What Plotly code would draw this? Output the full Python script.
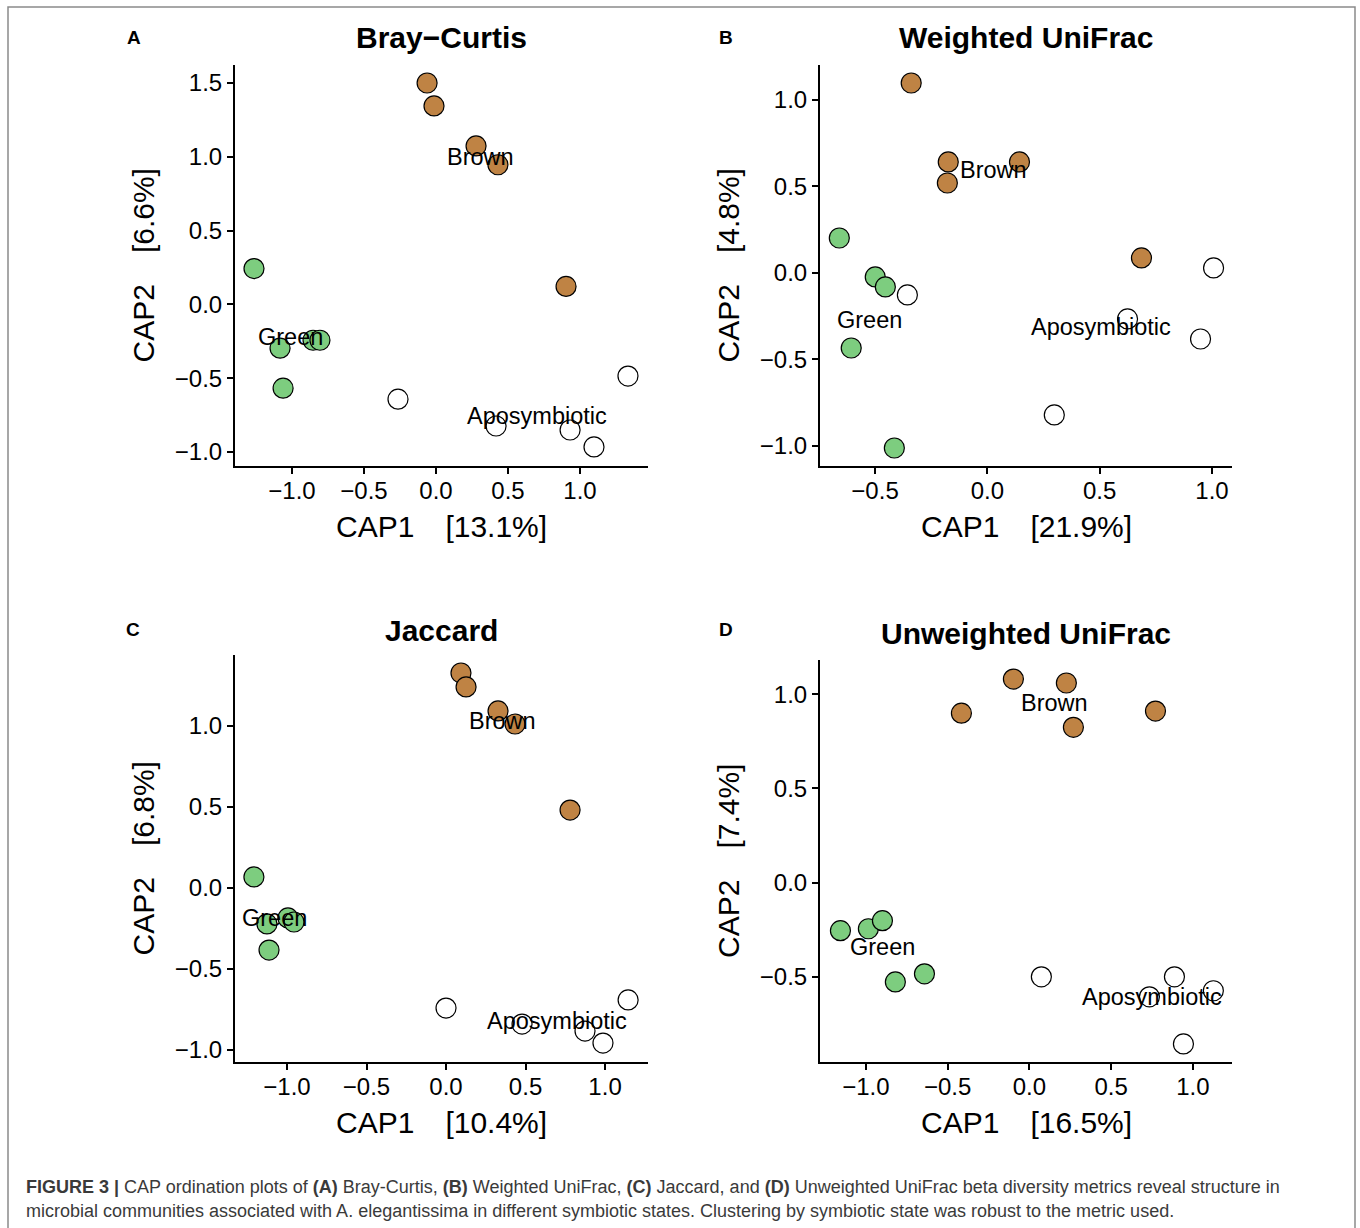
import plotly.graph_objects as go

W, H = 1360, 1228

# ---------------- data ----------------
groups = ["Brown", "Green", "Aposymbiotic"]
group_colors = {"Brown": "#BF8344", "Green": "#7DCD7F", "Aposymbiotic": "#FFFFFF"}

panel_letters = ["A", "B", "C", "D"]
panel_titles = ["Bray\u2212Curtis", "Weighted UniFrac", "Jaccard", "Unweighted UniFrac"]
cap1_pct = ["13.1%", "21.9%", "10.4%", "16.5%"]
cap2_pct = ["6.6%", "4.8%", "6.8%", "7.4%"]

# Bray-Curtis
bc_brown_x = [-0.062, -0.014, 0.278, 0.430, 0.903]
bc_brown_y = [1.500, 1.345, 1.074, 0.946, 0.122]
bc_green_x = [-1.264, -1.083, -1.062, -0.854, -0.806]
bc_green_y = [0.243, -0.297, -0.568, -0.243, -0.243]
bc_apo_x = [-0.264, 0.417, 0.931, 1.097, 1.333]
bc_apo_y = [-0.642, -0.824, -0.851, -0.966, -0.486]

# Weighted UniFrac
wu_brown_x = [-0.339, -0.174, -0.178, 0.143, 0.686]
wu_brown_y = [1.098, 0.642, 0.520, 0.642, 0.087]
wu_green_x = [-0.659, -0.499, -0.454, -0.606, -0.414]
wu_green_y = [0.202, -0.023, -0.081, -0.434, -1.012]
wu_apo_x = [-0.356, 0.624, 0.949, 1.007, 0.298]
wu_apo_y = [-0.127, -0.266, -0.382, 0.029, -0.821]

# Jaccard
ja_brown_x = [0.094, 0.126, 0.327, 0.434, 0.780]
ja_brown_y = [1.327, 1.241, 1.093, 1.012, 0.481]
ja_green_x = [-1.208, -1.126, -1.113, -0.994, -0.956]
ja_green_y = [0.068, -0.222, -0.383, -0.185, -0.210]
ja_apo_x = [0.000, 0.478, 0.874, 0.987, 1.145]
ja_apo_y = [-0.741, -0.840, -0.883, -0.957, -0.691]

# Unweighted UniFrac
uu_brown_x = [-0.416, -0.098, 0.226, 0.269, 0.771]
uu_brown_y = [0.899, 1.080, 1.059, 0.824, 0.910]
uu_green_x = [-1.156, -0.985, -0.899, -0.820, -0.642]
uu_green_y = [-0.255, -0.245, -0.202, -0.527, -0.484]
uu_apo_x = [0.073, 0.734, 0.887, 1.125, 0.942]
uu_apo_y = [-0.500, -0.606, -0.500, -0.574, -0.856]

panel_data = [
    {"Brown": (bc_brown_x, bc_brown_y), "Green": (bc_green_x, bc_green_y), "Aposymbiotic": (bc_apo_x, bc_apo_y)},
    {"Brown": (wu_brown_x, wu_brown_y), "Green": (wu_green_x, wu_green_y), "Aposymbiotic": (wu_apo_x, wu_apo_y)},
    {"Brown": (ja_brown_x, ja_brown_y), "Green": (ja_green_x, ja_green_y), "Aposymbiotic": (ja_apo_x, ja_apo_y)},
    {"Brown": (uu_brown_x, uu_brown_y), "Green": (uu_green_x, uu_green_y), "Aposymbiotic": (uu_apo_x, uu_apo_y)},
]

x_ranges = [[-1.396, 1.472], [-0.745, 1.089], [-1.327, 1.270], [-1.281, 1.239]]
y_ranges = [[-1.095, 1.622], [-1.116, 1.202], [-1.074, 1.438], [-0.952, 1.181]]
x_ticks = [[-1.0, -0.5, 0.0, 0.5, 1.0], [-0.5, 0.0, 0.5, 1.0], [-1.0, -0.5, 0.0, 0.5, 1.0], [-1.0, -0.5, 0.0, 0.5, 1.0]]
y_ticks = [[-1.0, -0.5, 0.0, 0.5, 1.0, 1.5], [-1.0, -0.5, 0.0, 0.5, 1.0], [-1.0, -0.5, 0.0, 0.5, 1.0], [-0.5, 0.0, 0.5, 1.0]]

caption_line1 = ("<b>FIGURE 3 |</b> CAP ordination plots of <b>(A)</b> Bray-Curtis, <b>(B)</b> Weighted UniFrac, "
                 "<b>(C)</b> Jaccard, and <b>(D)</b> Unweighted UniFrac beta diversity metrics reveal structure in")
caption_line2 = ("microbial communities associated with A. elegantissima in different symbiotic states. "
                 "Clustering by symbiotic state was robust to the metric used.")

# ---------------- layout geometry (pixels) ----------------
# (left, right, top, bottom) of each plotting area
boxes = [(235, 648, 65, 466), (820, 1232, 65, 466), (235, 648, 655, 1062), (820, 1232, 660, 1062)]
title_y = [37, 37, 630, 633]
letter_pos = [(134, 37), (726, 37), (133, 629), (726, 629)]

FONT = "Liberation Sans, Arial, Helvetica, sans-serif"
GAP = "\u00a0\u00a0\u00a0\u2009"

def px(x):
    return x / W

def py(y):
    return 1 - y / H

fig = go.Figure()
annotations = []

for i in range(4):
    l, r, t, b = boxes[i]
    xa = "x" if i == 0 else f"x{i+1}"
    ya = "y" if i == 0 else f"y{i+1}"
    for g in groups:
        xs, ys = panel_data[i][g]
        fig.add_trace(go.Scatter(
            x=xs, y=ys, mode="markers", name=g, xaxis=xa, yaxis=ya, showlegend=False,
            marker=dict(size=20, color=group_colors[g], line=dict(color="black", width=1.2)),
            cliponaxis=False,
        ))
    # group labels at centroids
    for g in groups:
        xs, ys = panel_data[i][g]
        cx = sum(xs) / len(xs)
        cy = sum(ys) / len(ys)
        annotations.append(dict(x=cx, y=cy, xref=xa, yref=ya, text=g, showarrow=False,
                                font=dict(family=FONT, size=23.5, color="black"),
                                xanchor="center", yanchor="middle"))
    sfx = "" if i == 0 else str(i + 1)
    fig.layout["xaxis" + sfx] = dict(
        domain=[px(l), px(r)], range=x_ranges[i], anchor=ya,
        tickvals=x_ticks[i], tickformat=".1f", ticks="outside", ticklen=6, tickwidth=1.5,
        tickcolor="black", showline=True, linecolor="black", linewidth=2,
        showgrid=False, zeroline=False, tickfont=dict(family=FONT, size=24, color="black"),
        ticklabelstandoff=-4, fixedrange=True,
    )
    fig.layout["yaxis" + sfx] = dict(
        domain=[py(b), py(t)], range=y_ranges[i], anchor=xa,
        tickvals=y_ticks[i], tickformat=".1f", ticks="outside", ticklen=6, tickwidth=1.5,
        tickcolor="black", showline=True, linecolor="black", linewidth=2,
        showgrid=False, zeroline=False, tickfont=dict(family=FONT, size=24, color="black"),
        fixedrange=True,
    )
    cxp = (l + r) / 2
    # panel title
    annotations.append(dict(x=px(cxp), y=py(title_y[i]), xref="paper", yref="paper",
                            text=f"<b>{panel_titles[i]}</b>", showarrow=False,
                            font=dict(family=FONT, size=30, color="black"),
                            xanchor="center", yanchor="middle"))
    # panel letter
    lx, ly = letter_pos[i]
    annotations.append(dict(x=px(lx), y=py(ly), xref="paper", yref="paper",
                            text=f"<b>{panel_letters[i]}</b>", showarrow=False,
                            font=dict(family=FONT, size=19, color="black"),
                            xanchor="center", yanchor="middle"))
    # axis titles
    annotations.append(dict(x=px(cxp), y=py(b + 60), xref="paper", yref="paper",
                            text="CAP1" + GAP + "[" + cap1_pct[i] + "]", showarrow=False,
                            font=dict(family=FONT, size=30, color="black"),
                            xanchor="center", yanchor="middle"))
    annotations.append(dict(x=px(l - 92), y=py((t + b) / 2), xref="paper", yref="paper",
                            text="CAP2" + GAP + "[" + cap2_pct[i] + "]", showarrow=False,
                            textangle=-90,
                            font=dict(family=FONT, size=30, color="black"),
                            xanchor="center", yanchor="middle"))

# caption
annotations.append(dict(x=px(24), y=py(1187), xref="paper", yref="paper", text=caption_line1,
                        showarrow=False, xanchor="left", yanchor="middle",
                        font=dict(family=FONT, size=18, color="#3a3a3a")))
annotations.append(dict(x=px(24), y=py(1211), xref="paper", yref="paper", text=caption_line2,
                        showarrow=False, xanchor="left", yanchor="middle",
                        font=dict(family=FONT, size=18, color="#3a3a3a")))

fig.update_layout(
    width=W, height=H, margin=dict(l=0, r=0, t=0, b=0),
    paper_bgcolor="white", plot_bgcolor="white",
    annotations=annotations,
    shapes=[dict(type="rect", xref="paper", yref="paper", x0=px(8), x1=px(1355), y0=-0.05, y1=py(7),
                 line=dict(color="#8a8a8a", width=1.5), fillcolor="rgba(0,0,0,0)", layer="below")],
)

fig.write_html("out.html", config={"displayModeBar": False},
               post_script="document.body.style.margin='0';document.body.style.overflow='hidden';")
